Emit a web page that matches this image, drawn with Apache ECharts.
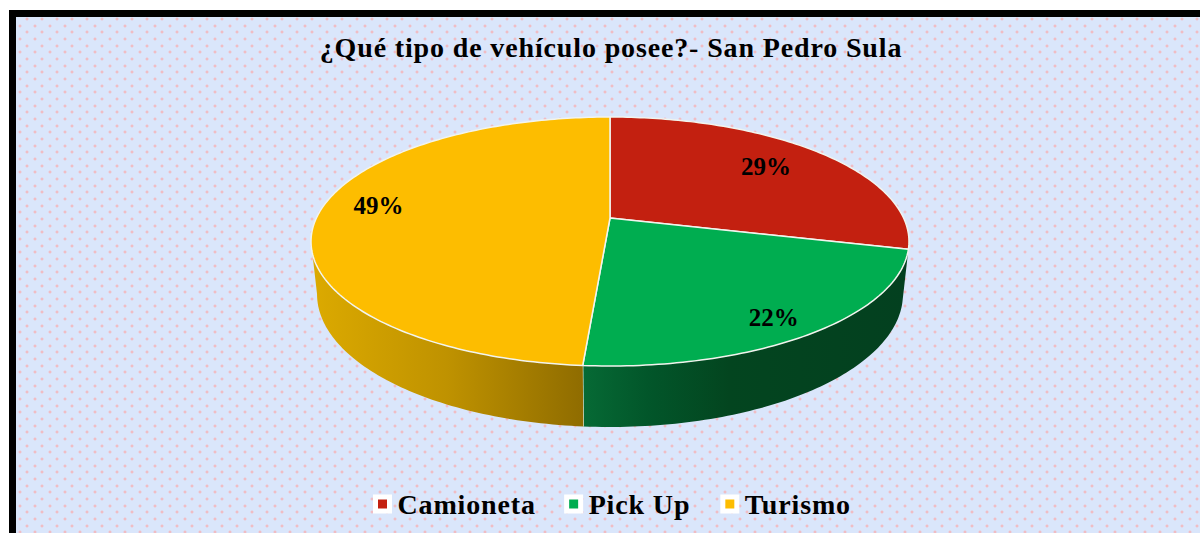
<!DOCTYPE html>
<html><head><meta charset="utf-8">
<style>
html,body{margin:0;padding:0;background:#fff;width:1200px;height:533px;overflow:hidden}
#frame{position:absolute;left:9px;top:10px;width:1191px;height:523px;background:#000}
#paper{position:absolute;left:16px;top:17px;width:1184px;height:516px;background-color:#dae6fb}
#chart{position:absolute;left:0;top:0;width:1200px;height:533px}
#chart svg text[style*="28px"]{letter-spacing:.86px}
</style>
<script src="https://cdn.jsdelivr.net/npm/echarts@6/dist/echarts.min.js"></script>
</head><body>
<div id="frame"></div><div id="paper"></div><div id="chart"></div>
<script>
const chartTitle = '¿Qué tipo de vehículo posee?- San Pedro Sula';
const categories = ['Camioneta', 'Pick Up', 'Turismo'];
const shares = [29, 22.2, 48.8];
const faceColors = ['#c32010', '#00ad50', '#fdbd00'];

// dotted paper texture
(function () {
  const c = document.createElement('canvas'); c.width = 15; c.height = 40;
  const g = c.getContext('2d');
  g.fillStyle = '#dae6fb'; g.fillRect(0, 0, 15, 40);
  [0, 7, 13, 20, 27, 33].forEach(function (y, i) {
    const x = i % 2 ? 8 : 0;
    g.fillStyle = 'rgba(250,170,170,.68)'; g.fillRect(x + 1, y, 2, 2);
    g.fillStyle = 'rgba(250,170,170,.22)';
    g.fillRect(x, y, 1, 2); g.fillRect(x + 3, y, 1, 2); g.fillRect(x + 1, y - 1 < 0 ? 39 : y - 1, 2, 1); g.fillRect(x + 1, y + 2, 2, 1);
  });
  const p = document.getElementById('paper');
  p.style.backgroundImage = 'url(' + c.toDataURL() + ')';
  p.style.backgroundPosition = '9px 1px';
})();

// perspective projection of the disc
const CX = 610, APEX = 218, PERSP = -0.1888, YK = 78.9, XK = 293.6;
const RING = { rx: 293 / 299, ry: 133 / 124.5, cy: 241.5, ly: 294 };
function top3d(deg, r) {
  const a = deg * Math.PI / 180, u = Math.sin(a) * r, v = -Math.cos(a) * r, d = 1 + PERSP * v;
  return [CX + XK * u / d, (YK * v + APEX) / d];
}
function low3d(deg) {
  const p = top3d(deg, 1);
  return [CX + (p[0] - CX) * RING.rx, RING.ly + (p[1] - RING.cy) * RING.ry];
}
const WALL_FROM = 90 + Math.asin(-PERSP) * 180 / Math.PI, WALL_TO = 360 - WALL_FROM;
function arc(fn, a, b) {
  const n = Math.max(2, Math.ceil(Math.abs(b - a))), out = [];
  for (let i = 0; i <= n; i++) out.push(fn(a + (b - a) * i / n, 1));
  return out;
}
const wallStops = [
  null,
  [[0, '#066a35'], [0.2, '#02562a'], [0.45, '#03451f'], [1, '#03401f']],
  [[0, '#dcaa00'], [0.5, '#bf9200'], [1, '#8f6c00']]
];
const labelSpot = [[0.75, -4, -1], [0.87, -8, 2], [0.79, -1, -9]];

function makeRender(idx) {
  return function (params, api) {
    const start = api.value(0), end = api.value(1), kids = [];
    const wa = Math.max(start, WALL_FROM), wb = Math.min(end, WALL_TO);
    if (wb > wa && wallStops[idx]) {
      const pts = arc(top3d, wa, wb).concat(arc(low3d, wa, wb).reverse());
      kids.push({ type: 'polygon', shape: { points: pts },
        style: { fill: new echarts.graphic.LinearGradient(0, 0, 1, 0,
          wallStops[idx].map(s => ({ offset: s[0], color: s[1] }))) } });
      if (end < WALL_TO) kids.push({ type: 'line',
        shape: { x1: top3d(end, 1)[0], y1: top3d(end, 1)[1], x2: low3d(end)[0], y2: low3d(end)[1] },
        style: { stroke: '#e8efe8', lineWidth: 1.2 } });
    }
    const face = [top3d(0, 0)].concat(arc(top3d, start, end));
    kids.push({ type: 'polygon', shape: { points: face },
      style: { fill: faceColors[idx], stroke: '#f2f4ee', lineWidth: 1.5, lineJoin: 'round' } });
    const spot = labelSpot[idx], m = top3d((start + end) / 2, spot[0]);
    kids.push({ type: 'text', x: m[0] + spot[1], y: m[1] + spot[2],
      style: { text: Math.round(api.value(2)) + '%', fill: '#000', align: 'center', verticalAlign: 'middle',
        font: 'bold 25px "Liberation Serif"' } });
    return { type: 'group', children: kids };
  };
}

let run = 0;
const series = categories.map(function (name, i) {
  const s = run * 3.6; run += shares[i];
  return { type: 'custom', name: name, coordinateSystem: 'none', silent: true, animation: false,
    itemStyle: { color: faceColors[i] }, renderItem: makeRender(i),
    data: [[s, run * 3.6, shares[i]]] };
});

const chart = echarts.init(document.getElementById('chart'), null, { renderer: 'svg', width: 1200, height: 533 });
chart.setOption({
  backgroundColor: 'transparent',
  animation: false,
  title: { text: chartTitle, left: 606, top: 28, textAlign: 'center',
    textStyle: { fontFamily: 'Liberation Serif', fontWeight: 'bold', fontSize: 28, color: '#000' } },
  legend: { left: 368, top: 485, itemWidth: 14, itemHeight: 14, itemGap: 36, icon: 'rect', selectedMode: false,
    data: categories.map((n, i) => ({ name: n, itemStyle: { color: faceColors[i], borderColor: '#fff', borderWidth: 5 } })),
    textStyle: { fontFamily: 'Liberation Serif', fontWeight: 'bold', fontSize: 28, color: '#000', padding: [0, 0, 0, 3] } },
  series: series
});
</script>
</body></html>
